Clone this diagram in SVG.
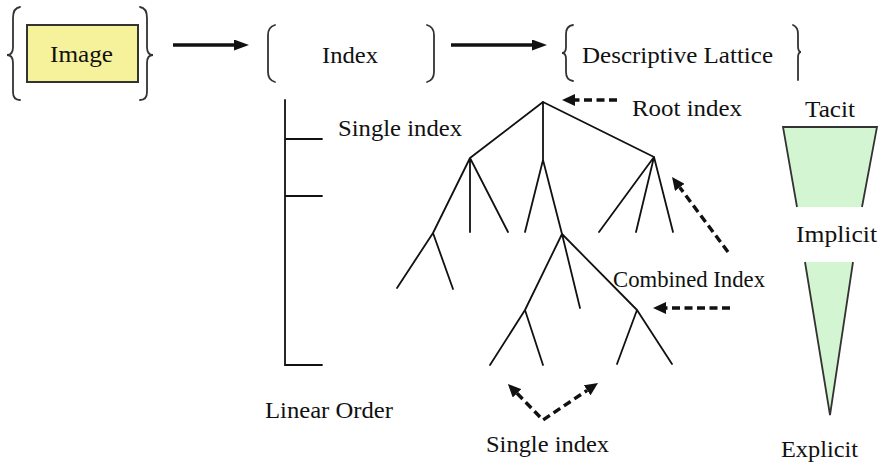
<svg xmlns="http://www.w3.org/2000/svg" width="881" height="464" viewBox="0 0 881 464">
<style>
text{font-family:"Liberation Serif","Times New Roman",serif;font-size:23px;fill:#111}
.br{fill:none;stroke:#333;stroke-width:1.8;stroke-linecap:round}
.tree{fill:none;stroke:#111;stroke-width:1.8;stroke-linecap:round}
.solid{fill:none;stroke:#111;stroke-width:3.4}
.dash{fill:none;stroke:#111;stroke-width:3.4;stroke-dasharray:8 4.5}
.edge{fill:none;stroke:#333;stroke-width:1.8}
.green{fill:#d4f5d1;stroke:none}
</style>
<defs>
<marker id="solidHead" viewBox="0 0 15 11" refX="0" refY="5.5" markerWidth="15" markerHeight="11" markerUnits="userSpaceOnUse" orient="auto">
<path d="M0,0 L15,5.5 L0,11 z" fill="#111"/>
</marker>
<marker id="dashHead" viewBox="0 0 13 12" refX="0" refY="6" markerWidth="13" markerHeight="12" markerUnits="userSpaceOnUse" orient="auto">
<path d="M0,0 L13,6 L0,12 z" fill="#111"/>
</marker>
</defs>

<g id="image-node">
<path class="br" d="M20,7 Q13,8 13,18 L13,47 Q13,55 7,55 Q13,55 13,63 L13,92 Q13,100 20,100"/>
<rect x="27" y="25" width="111" height="57" fill="#f6f29c" stroke="#333" stroke-width="2"/>
<path class="br" d="M140,7 Q147,8 147,18 L147,47 Q147,55 153,55 Q147,55 147,63 L147,92 Q147,100 140,100"/>
<text x="50" y="62" textLength="63" lengthAdjust="spacingAndGlyphs">Image</text>
</g>

<g id="index-node">
<path class="br" d="M275,25 Q268,27 268,35 L268,72 Q268,80 275,82"/>
<path class="br" d="M427,25 Q434,27 434,35 L434,72 Q434,80 427,82"/>
<text x="322" y="63" textLength="56" lengthAdjust="spacingAndGlyphs">Index</text>
</g>

<g id="lattice-node">
<path class="br" d="M573,25 Q566,26 566,34 L566,47 Q566,53 562,53 Q566,53 566,59 L566,72 Q566,80 573,81"/>
<path class="br" d="M793,25 Q798,27 798,34 L798,46 Q798,52 801,52 Q798,52 798,58 L798,80"/>
<text x="582" y="63" textLength="191" lengthAdjust="spacingAndGlyphs">Descriptive Lattice</text>
</g>

<g id="linear-order">
<path class="tree" d="M285,100 L285,365 L322,365 M285,139 L322,139 M285,196 L322,196"/>
<text x="265" y="418" textLength="128" lengthAdjust="spacingAndGlyphs">Linear Order</text>
</g>

<g id="lattice-tree">
<path class="tree" d="
M543,102 L470,158 M543,102 L543,160 M543,102 L654,157
M470,158 L433,233 M470,158 L470,232 M470,158 L508,232
M543,160 L525,232 M543,160 L562,234
M654,157 L599,232 M654,157 L636,232 M654,157 L673,232
M433,233 L397,288 M433,233 L453,289
M562,234 L525,310 M562,234 L580,308 M562,234 L637,310
M525,310 L490,365 M525,310 L543,365
M637,310 L617,364 M637,310 L672,364"/>
</g>

<g id="labels">
<text x="338" y="136" textLength="124" lengthAdjust="spacingAndGlyphs">Single index</text>
<text x="632" y="116" textLength="110" lengthAdjust="spacingAndGlyphs">Root index</text>
<text x="613" y="287" textLength="152" lengthAdjust="spacingAndGlyphs">Combined Index</text>
<text x="486" y="452" textLength="123" lengthAdjust="spacingAndGlyphs">Single index</text>
</g>

<g id="knowledge-scale">
<text x="805" y="117" textLength="50" lengthAdjust="spacingAndGlyphs">Tacit</text>
<polygon class="green" points="783,127 877,127 862,207 797,207"/>
<path class="edge" d="M797,207 L783,127 L877,127 L862,207"/>
<text x="796" y="242" textLength="81" lengthAdjust="spacingAndGlyphs">Implicit</text>
<polygon class="green" points="805,262 853,262 830,415"/>
<path class="edge" d="M805,262 L830,415 L853,262"/>
<text x="781" y="457" textLength="77" lengthAdjust="spacingAndGlyphs">Explicit</text>
</g>

<g id="connectors">
<line class="solid" x1="173" y1="45" x2="234" y2="45" marker-end="url(#solidHead)"/>
<line class="solid" x1="451" y1="45" x2="532" y2="45" marker-end="url(#solidHead)"/>
<line class="dash" x1="617" y1="100" x2="575" y2="100" marker-end="url(#dashHead)"/>
<line class="dash" x1="728" y1="252" x2="679.8" y2="187.4" marker-end="url(#dashHead)"/>
<line class="dash" x1="730" y1="308" x2="666" y2="308" marker-end="url(#dashHead)"/>
<polyline class="dash" points="517,393.3 543,420 587.2,390.3" fill="none"/>
<line x1="521" y1="397.4" x2="517" y2="393.3" stroke="none" marker-end="url(#dashHead)"/>
<line x1="583" y1="393.1" x2="587.2" y2="390.3" stroke="none" marker-end="url(#dashHead)"/>
</g>
</svg>
